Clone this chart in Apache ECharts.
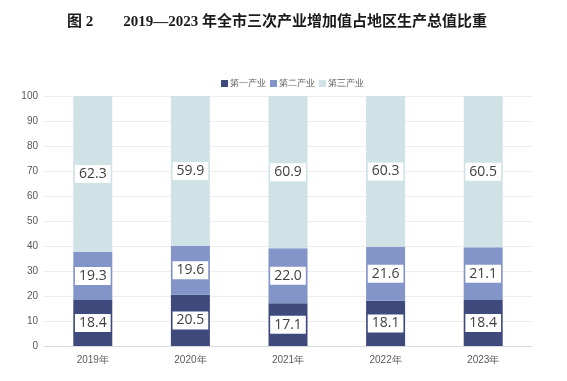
<!DOCTYPE html>
<html><head><meta charset="utf-8">
<script src="https://cdn.jsdelivr.net/npm/echarts@6/dist/echarts.min.js"></script>
<style>html,body{margin:0;padding:0;background:#fff}#c{width:567px;height:381px}</style>
</head><body><div id="c"></div>
<script>
const categories = ['2019年','2020年','2021年','2022年','2023年'];
const seriesNames = ['第一产业','第二产业','第三产业'];
const primary = [18.4, 20.5, 17.1, 18.1, 18.4];
const secondary = [19.3, 19.6, 22.0, 21.6, 21.1];
const tertiary = [62.3, 59.9, 60.9, 60.3, 60.5];
const yTicks = {min: 0, max: 100, interval: 10};
const colors = ['#3e4a7c', '#8394c9', '#cfe2e6'];

const chart = echarts.init(document.getElementById('c'));
const label = {
  show: true, position: 'inside',
  formatter: p => p.value.toFixed(1),
  color: '#404040', fontSize: 14, fontFamily: 'Open Sans, sans-serif',
  backgroundColor: '#fff', padding: [3, 4, 1, 4]
};
const mk = (name, data, i) => ({
  name, type: 'bar', stack: 'a', data, barWidth: 39,
  itemStyle: {color: colors[i]}, label
});
chart.setOption({
  animation: false,
  title: {
    text: '图 2　　2019—2023 年全市三次产业增加值占地区生产总值比重',
    left: 272, top: 10, textAlign: 'center',
    textStyle: {fontFamily: 'Liberation Serif, Noto Sans CJK SC', fontSize: 15, fontWeight: 'bold', color: '#1a1a1a'}
  },
  legend: {
    data: seriesNames, top: 74, left: 216, itemWidth: 7, itemHeight: 7, itemGap: 4,
    icon: 'rect', textStyle: {color: '#595959', fontSize: 9, padding: [0,0,0,-3]}
  },
  grid: {left: 44, right: 35, top: 96, bottom: 35},
  xAxis: {
    type: 'category', data: categories,
    axisLine: {lineStyle: {color: '#d9d9d9'}}, axisTick: {show: false},
    axisLabel: {color: '#595959', fontSize: 10, margin: 9}
  },
  yAxis: {
    type: 'value', ...yTicks,
    axisLabel: {color: '#595959', fontSize: 10, margin: 6},
    splitLine: {lineStyle: {color: '#eeeeee'}},
    axisLine: {show: false}, axisTick: {show: false}
  },
  series: [mk(seriesNames[0], primary, 0), mk(seriesNames[1], secondary, 1), mk(seriesNames[2], tertiary, 2)]
});
</script></body></html>
